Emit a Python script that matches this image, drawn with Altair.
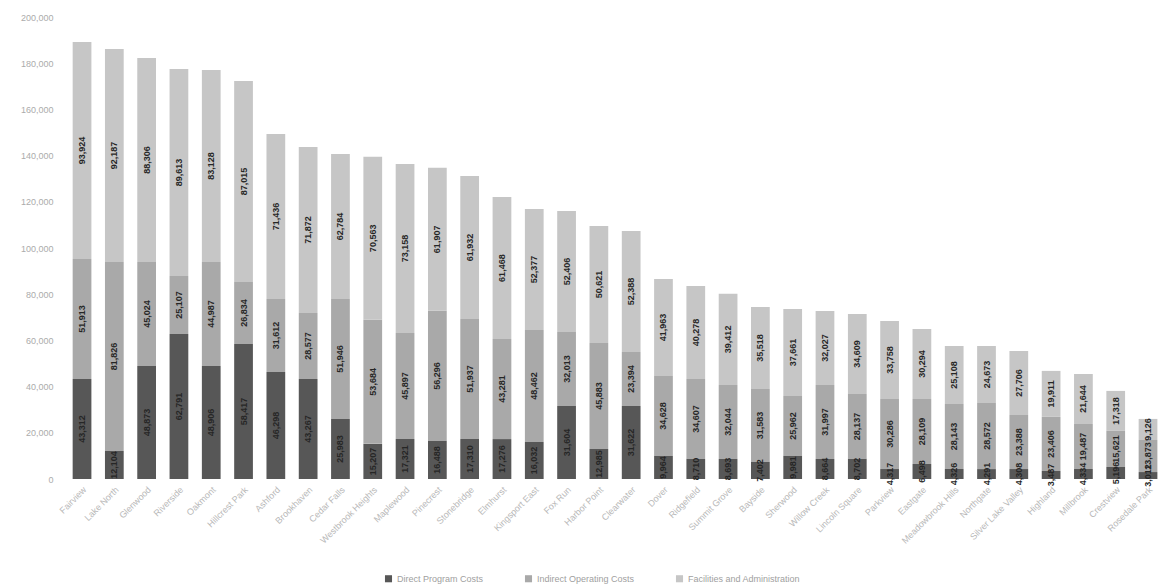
import altair as alt
import pandas as pd

categories = [
    "Fairview", "Lake North", "Glenwood", "Riverside", "Oakmont", "Hillcrest Park",
    "Ashford", "Brookhaven", "Cedar Falls", "Westbrook Heights", "Maplewood", "Pinecrest",
    "Stonebridge", "Elmhurst", "Kingsport East", "Fox Run", "Harbor Point", "Clearwater",
    "Dover", "Ridgefield", "Summit Grove", "Bayside", "Sherwood", "Willow Creek",
    "Lincoln Square", "Parkview", "Eastgate", "Meadowbrook Hills", "Northgate", "Silver Lake Valley",
    "Highland", "Millbrook", "Crestview", "Rosedale Park",
]

series = ["Direct Program Costs", "Indirect Operating Costs", "Facilities and Administration"]

seg_dark = [
    43312, 12104, 48873, 62791, 48906, 58417, 46298, 43267, 25983, 15207, 17321, 16488,
    17310, 17276, 16032, 31604, 12985, 31622, 9964, 8710, 8693, 7402, 9981, 8664,
    8702, 4317, 6498, 4326, 4291, 4308, 3487, 4334, 5196, 3012,
]
seg_mid = [
    51913, 81826, 45024, 25107, 44987, 26834, 31612, 28577, 51946, 53684, 45897, 56296,
    51937, 43281, 48462, 32013, 45883, 23394, 34628, 34607, 32044, 31583, 25962, 31997,
    28137, 30286, 28109, 28143, 28572, 23388, 23406, 19487, 15621, 13873,
]
seg_light = [
    93924, 92187, 88306, 89613, 83128, 87015, 71436, 71872, 62784, 70563, 73158, 61907,
    61932, 61468, 52377, 52406, 50621, 52388, 41963, 40278, 39412, 35518, 37661, 32027,
    34609, 33758, 30294, 25108, 24673, 27706, 19911, 21644, 17318, 9126,
]
y_ticks = [0, 20000, 40000, 60000, 80000, 100000, 120000, 140000, 160000, 180000, 200000]

rows = []
for i, c in enumerate(categories):
    for k, (s, vals) in enumerate(zip(series, [seg_dark, seg_mid, seg_light])):
        rows.append({"cat": c, "series": s, "idx": k, "value": vals[i]})
df = pd.DataFrame(rows)

base = alt.Chart(df).transform_stack(
    stack="value", groupby=["cat"], as_=["y0", "y1"],
    sort=[alt.SortField("idx", order="ascending")],
).transform_calculate(mid="(datum.y0 + datum.y1) / 2")

x_scale = alt.Scale(paddingInner=0.42, paddingOuter=0.19, align=0.95)
y_scale = alt.Scale(domain=[0, 200000], nice=False)

x_axis = alt.Axis(labelAngle=-45, labelColor="#b8b8b8", labelFontSize=9,
                  ticks=False, domain=False, grid=False, labelPadding=6, title=None)
y_axis = alt.Axis(values=y_ticks, labelExpr="format(datum.value, ',')", grid=False,
                  ticks=False, domain=False, labelColor="#ababab", labelFontSize=9,
                  labelPadding=8, minExtent=48, maxExtent=48, title=None)

bars = base.mark_bar().encode(
    x=alt.X("cat:N", sort=categories, scale=x_scale, axis=x_axis),
    y=alt.Y("y0:Q", scale=y_scale, axis=y_axis),
    y2="y1:Q",
    color=alt.Color(
        "series:N",
        scale=alt.Scale(domain=series, range=["#575757", "#a9a9a9", "#c6c6c6"]),
        legend=alt.Legend(
            orient="none", legendX=323, legendY=557, direction="horizontal",
            title=None, symbolType="square", symbolSize=50, labelFontSize=9,
            labelColor="#a0a0a0", columnPadding=40, symbolStrokeWidth=0,
        ),
    ),
    order=alt.Order("idx:Q"),
)

labels = base.mark_text(angle=270, fontSize=9, color="#262626", fontWeight="bold").encode(
    x=alt.X("cat:N", sort=categories, scale=x_scale, axis=x_axis),
    y=alt.Y("mid:Q", scale=y_scale, axis=y_axis),
    text=alt.Text("value:Q", format=","),
)

chart = (bars + labels).properties(
    width=1097, height=462,
    padding={"left": 5, "top": 5, "right": 0, "bottom": 5},
).configure(font="Liberation Sans").configure_view(stroke="transparent", strokeWidth=0)

chart.save("out.html", embed_options={"renderer": "svg", "actions": False})
